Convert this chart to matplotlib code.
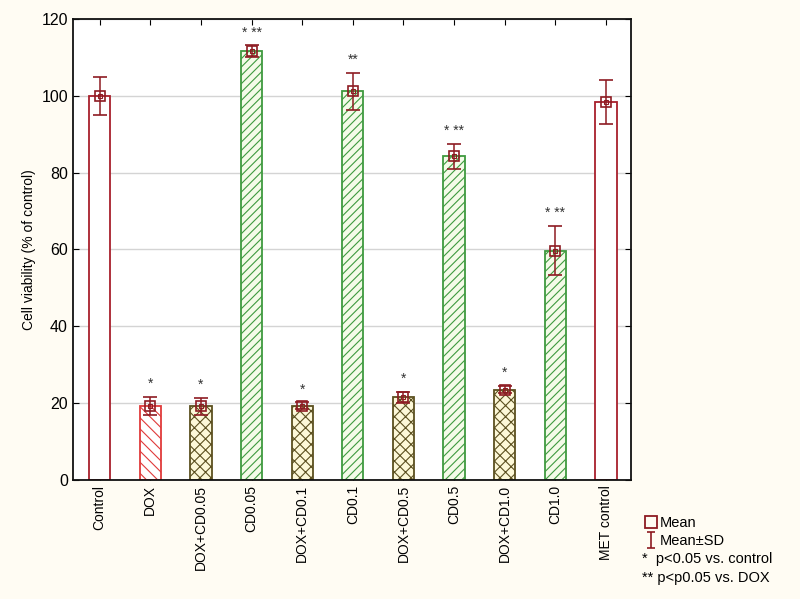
import matplotlib
matplotlib.use('Agg')
import matplotlib.pyplot as plt
from matplotlib.lines import Line2D
from matplotlib.path import Path
import numpy as np

plt.rcParams['font.family'] = ['Liberation Sans', 'DejaVu Sans']
plt.rcParams['hatch.linewidth'] = 0.8

groups = ['Control', 'DOX', 'DOX+CD0.05', 'CD0.05', 'DOX+CD0.1', 'CD0.1',
          'DOX+CD0.5', 'CD0.5', 'DOX+CD1.0', 'CD1.0', 'MET control']
means = [100.0, 19.3, 19.2, 111.7, 19.3, 101.2, 21.5, 84.3, 23.5, 59.7, 98.4]
sds = [5.0, 2.3, 2.2, 1.5, 0.9, 4.8, 1.5, 3.3, 1.0, 6.4, 5.8]
stars = ['', '*', '*', '* **', '*', '**', '*', '* **', '*', '* **', '']
kinds = ['ctrl', 'dox', 'mix', 'cd', 'mix', 'cd', 'mix', 'cd', 'mix', 'cd', 'ctrl']

dark_red = '#8e1b22'
styles = {
    'ctrl': dict(facecolor='white', edgecolor='#a8202c', hatch=None),
    'dox': dict(facecolor='white', edgecolor='#e03a3a', hatch='\\\\\\'),
    'mix': dict(facecolor='#fdf8d8', edgecolor='#5c5020', hatch='xxx'),
    'cd': dict(facecolor='#f4fbe8', edgecolor='#3f9a3f', hatch='////'),
}

fig = plt.figure(figsize=(8, 5.99), dpi=100, facecolor='#fffcf3')
ax = fig.add_axes([0.091, 0.199, 0.698, 0.769])
ax.set_facecolor('white')

x = np.arange(len(groups))
for i in x:
    st = styles[kinds[i]]
    ax.bar(i, means[i], width=0.42, facecolor=st['facecolor'],
           edgecolor=st['edgecolor'], hatch=st['hatch'], linewidth=1.3, zorder=2)

ax.errorbar(x, means, yerr=sds, fmt='s', ms=7, mfc='none', mec=dark_red,
            mew=1.2, ecolor=dark_red, elinewidth=1.1, capsize=5, capthick=1.1,
            zorder=4)
ax.plot(x, means, 's', ms=3.5, mfc='none', mec=dark_red, mew=0.8, zorder=5)

for i in x:
    if stars[i]:
        ax.text(i, means[i] + sds[i] + 1.5, stars[i], ha='center', va='bottom',
                fontsize=10, color='#333333')

ax.set_xlim(-0.53, 10.5)
ax.set_ylim(0, 120)
ax.set_yticks(np.arange(0, 121, 20))
ax.yaxis.grid(True, color='#d4d4d4', linewidth=1)
ax.set_axisbelow(True)
ax.set_xticks(x)
ax.set_xticklabels(groups, rotation=90, fontsize=10)
ax.tick_params(axis='y', labelsize=11.5, direction='in', right=True, length=4)
ax.tick_params(axis='x', direction='in', top=True, length=4)
for sp in ax.spines.values():
    sp.set_linewidth(1.3)
    sp.set_color('#111111')
ax.set_ylabel('Cell viability (% of control)', fontsize=10)

# I-beam symbol for the Mean±SD legend entry
ibeam = Path([(-0.5, 1), (0.5, 1), (0, 1), (0, -1), (-0.5, -1), (0.5, -1)],
             [Path.MOVETO, Path.LINETO, Path.MOVETO, Path.LINETO,
              Path.MOVETO, Path.LINETO])
handles = [
    Line2D([], [], marker='s', ms=8, mfc='none', mec=dark_red, mew=1.3, ls='none'),
    Line2D([], [], marker=ibeam, ms=12, mfc='none', mec=dark_red, mew=1.2, ls='none'),
]
fig.legend(handles, ['Mean', 'Mean±SD'], loc='upper left',
           bbox_to_anchor=(0.797, 0.151), frameon=False, fontsize=10.5,
           handlelength=0.8, handletextpad=0.25, labelspacing=0.3, borderpad=0)
fig.text(0.802, 0.067, '*  p<0.05 vs. control', fontsize=10.5, va='center')
fig.text(0.802, 0.035, '** p<p0.05 vs. DOX', fontsize=10.5, va='center')

fig.savefig('out.png', dpi=100, facecolor=fig.get_facecolor())
